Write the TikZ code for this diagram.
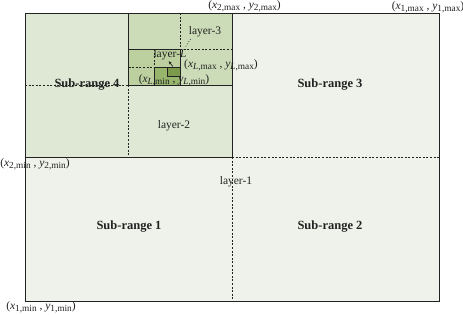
\documentclass[tikz,border=0pt]{standalone}
\usepackage{fontspec}
\setmainfont{Liberation Serif}
\usetikzlibrary{arrows.meta}
\definecolor{cA}{HTML}{EFF2EA}
\definecolor{cB}{HTML}{DFE8D4}
\definecolor{cC}{HTML}{CCDCB8}
\definecolor{cD}{HTML}{BBD09E}
\definecolor{cE}{HTML}{98B56E}
\definecolor{cF}{HTML}{7B9A4C}
\definecolor{ln}{HTML}{222222}
\tikzset{
  box/.style={draw=ln, line width=0.9pt},
  split/.style={draw=ln, line width=0.8pt, dash pattern=on 2pt off 1.6pt},
  lbl/.style={inner sep=0pt, font=\fontsize{11.5}{13}\selectfont, text=ln},
  big/.style={inner sep=0pt, font=\fontsize{12.5}{14}\selectfont\bfseries, text=ln},
  crd/.style={inner sep=0pt, font=\fontsize{11.5}{13}\selectfont, text=ln}
}
\newcommand{\sbs}[1]{\raisebox{-2.2pt}{\fontsize{9.3}{10}\selectfont #1}}
\newcommand{\crdtxt}[3]{(\textit{x}\sbs{#1,#2} , \textit{y}\sbs{#1,#3})}
\begin{document}
\begin{tikzpicture}[x=1pt,y=-1pt]
\useasboundingbox (0,0) rectangle (463,314);
% fills
\fill[cA] (25,13) rectangle (439,301);
\fill[cB] (25,13) rectangle (232,157);
\fill[cC] (128.5,13) rectangle (232,85);
\fill[cD] (128.5,49) rectangle (180.25,85);
\fill[cE] (154.4,67) rectangle (180.25,85);
\fill[cF] (167.3,67) rectangle (180.25,76);
% dashed splits
\draw[split] (232,157) -- (439,157);
\draw[split] (232,157) -- (232,301);
\draw[split] (25,85) -- (128.5,85);
\draw[split] (128.5,85) -- (128.5,157);
\draw[split] (180.25,13) -- (180.25,49);
\draw[split] (180.25,49) -- (232,49);
\draw[split] (128.5,67) -- (154.4,67);
\draw[split] (154.4,49) -- (154.4,67);
% solid boxes
\draw[box] (25,13) rectangle (439,301);
\draw[box] (25,13) rectangle (232,157);
\draw[box] (128.5,13) rectangle (232,85);
\draw[box] (128.5,49) rectangle (180.25,85);
\draw[box] (154.4,67) rectangle (180.25,85);
\draw[box] (167.3,67) rectangle (180.25,76);
% labels
\node[big] (s4) at (87,85) {Sub-range 4};
\node[big] (s3) at (330,85) {Sub-range 3};
\node[big] (s1) at (129,227) {Sub-range 1};
\node[big] (s2) at (330,227) {Sub-range 2};
\node[lbl] (l1) at (236,182) {layer-1};
\node[lbl] (l2) at (174,126) {layer-2};
\node[lbl] (l3) at (205,32) {layer-3};
\node[lbl] (lL) at (170,55) {layer-\textit{L}};
\node[crd] (c2max) at (244.5,6) {\crdtxt{2}{max}{max}};
\node[crd] (c1max) at (428,7) {\crdtxt{1}{max}{max}};
\node[crd] (c2min) at (35,164) {\crdtxt{2}{min}{min}};
\node[crd] (c1min) at (41,307) {\crdtxt{1}{min}{min}};
\node[crd] (cLmax) at (221,65) {\crdtxt{\textit{L}}{max}{max}};
\node[crd] (cLmin) at (174,80) {\crdtxt{\textit{L}}{min}{min}};
% pointers
\coordinate (aT) at (172.8,66.5);
\coordinate (aH) at (168.8,61.2);
\draw[ln, line width=0.7pt, -{Stealth[length=3pt,width=3pt]}] (aT) -- (aH);
\coordinate (dT) at (190.5,39);
\coordinate (dH) at (185.5,47);
\draw[ln, line width=0.7pt, dotted] (dT) -- (dH);
\end{tikzpicture}
\end{document}
